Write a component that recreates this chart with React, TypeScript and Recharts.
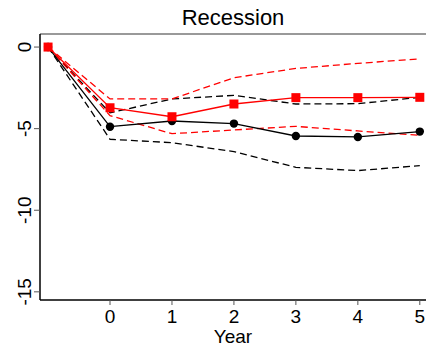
import { LineChart, Line, XAxis, YAxis, ReferenceLine, Label } from "recharts";

// --- data ---
const years = [-1, 0, 1, 2, 3, 4, 5];
const xTicks = [0, 1, 2, 3, 4, 5];
const yTicks = [0, -5, -10, -15];

const blackMain = [0, -4.88, -4.53, -4.69, -5.45, -5.51, -5.18];
const blackUpper = [0, -4.03, -3.18, -2.96, -3.49, -3.47, -3.08];
const blackLower = [0, -5.65, -5.86, -6.41, -7.37, -7.57, -7.27];

const redMain = [0, -3.72, -4.27, -3.49, -3.1, -3.1, -3.08];
const redUpper = [0, -3.18, -3.18, -1.88, -1.31, -1.0, -0.72];
const redLower = [0, -4.2, -5.31, -5.08, -4.86, -5.14, -5.41];

const data = years.map((year, i) => ({
  year,
  blackMain: blackMain[i],
  blackUpper: blackUpper[i],
  blackLower: blackLower[i],
  redMain: redMain[i],
  redUpper: redUpper[i],
  redLower: redLower[i],
}));

const FONT = "Arial, 'Liberation Sans', sans-serif";
const Y_TOP = 0.8;

const RotatedYTick = ({ x, y, payload }: any) => (
  <text
    x={x}
    y={y}
    transform={`rotate(-90, ${x}, ${y})`}
    textAnchor="middle"
    fontSize={19}
    fontFamily={FONT}
    fill="#000"
  >
    {payload.value}
  </text>
);

const SquareDot = ({ cx, cy }: any) =>
  cx == null ? null : <rect x={cx - 4.5} y={cy - 4.5} width={9} height={9} fill="#ff0000" />;

const CircleDot = ({ cx, cy }: any) =>
  cx == null ? null : <circle cx={cx} cy={cy} r={4.2} fill="#000" />;

export default function App() {
  return (
    <div style={{ position: "absolute", left: 0, top: 0, background: "#fff" }}>
      <LineChart width={426} height={346} data={data} margin={{ top: 34, right: 0, left: 0, bottom: 0 }}>
        <XAxis
          dataKey="year"
          type="number"
          domain={[-1.13, 5.1]}
          ticks={xTicks}
          allowDataOverflow
          height={46}
          axisLine={{ stroke: "#000", strokeWidth: 1.5 }}
          tickLine={{ stroke: "#555" }}
          tickSize={5}
          tickMargin={5}
          tick={{ fontSize: 19, fontFamily: FONT, fill: "#000" }}
        >
          <Label value="Year" position="insideBottom" offset={3} fontSize={19} fontFamily={FONT} fill="#000" />
        </XAxis>
        <YAxis
          type="number"
          domain={[-15.5, Y_TOP]}
          ticks={yTicks}
          allowDataOverflow
          width={40}
          axisLine={{ stroke: "#000", strokeWidth: 1.5 }}
          tickLine={{ stroke: "#555" }}
          tickSize={6}
          tickMargin={3}
          tick={<RotatedYTick />}
        />
        <ReferenceLine y={Y_TOP} stroke="#777" strokeWidth={1.5} ifOverflow="visible">
          <Label value="Recession" position="top" offset={9} fontSize={22} fontFamily={FONT} fill="#000" />
        </ReferenceLine>

        <Line dataKey="blackUpper" stroke="#000" strokeWidth={1.3} strokeDasharray="7 4" dot={false} isAnimationActive={false} />
        <Line dataKey="blackLower" stroke="#000" strokeWidth={1.3} strokeDasharray="7 4" dot={false} isAnimationActive={false} />
        <Line dataKey="redUpper" stroke="#ff0000" strokeWidth={1.3} strokeDasharray="7 4" dot={false} isAnimationActive={false} />
        <Line dataKey="redLower" stroke="#ff0000" strokeWidth={1.3} strokeDasharray="7 4" dot={false} isAnimationActive={false} />
        <Line dataKey="blackMain" stroke="#000" strokeWidth={1.3} dot={<CircleDot />} activeDot={false} isAnimationActive={false} />
        <Line dataKey="redMain" stroke="#ff0000" strokeWidth={1.3} dot={<SquareDot />} activeDot={false} isAnimationActive={false} />
      </LineChart>
    </div>
  );
}
